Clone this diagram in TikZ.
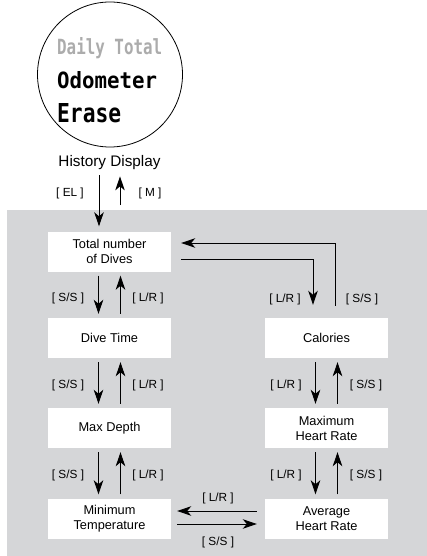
\documentclass[tikz,border=0pt]{standalone}
\usepackage{fontspec}
\setmainfont{Liberation Sans}
\newfontfamily\lcdfont{DejaVu Sans Mono}
\usetikzlibrary{arrows.meta}
\definecolor{panelgray}{RGB}{213,214,216}
\definecolor{lcdgray}{RGB}{172,172,172}
\tikzset{
  box/.style={fill=white, minimum width=123pt, minimum height=40pt, inner sep=0pt, align=center, font=\fontsize{12.8}{15}\selectfont},
  keylbl/.style={inner sep=0pt, font=\fontsize{11.8}{13}\selectfont},
  arr/.style={line width=0.9pt, -{Stealth[length=14pt,width=9.5pt,inset=4pt]}},
  lcd/.style={inner sep=0pt, anchor=base west}
}
\begin{document}
\begin{tikzpicture}[x=1pt,y=-1pt]
\useasboundingbox (0,0) rectangle (427,556);
\fill[panelgray] (7,210) rectangle (427,556);
% display circle
\draw[line width=0.8pt] (110,74.5) circle[radius=72.5pt];
\node[lcd, text=lcdgray] (daily) at (57,55) {\resizebox{105pt}{17pt}{\lcdfont\bfseries Daily Total}};
\node[lcd] (odo) at (57,89) {\resizebox{100pt}{17pt}{\lcdfont\bfseries Odometer}};
\node[lcd] (erase) at (57,123) {\resizebox{64pt}{19pt}{\lcdfont\bfseries Erase}};
\node[inner sep=0pt, anchor=base, font=\fontsize{15.3}{17}\selectfont] (hist) at (109.5,167) {History Display};
% boxes
\node[box] (total) at (109.5,251.5) {Total number\\of Dives};
\node[box] (dive) at (109.5,338) {Dive Time};
\node[box] (depth) at (109.5,428) {Max Depth};
\node[box] (mint) at (109.5,518.5) {Minimum\\Temperature};
\node[box] (cal) at (326.5,338) {Calories};
\node[box] (maxhr) at (326.5,428) {Maximum\\Heart Rate};
\node[box] (avghr) at (326.5,518.5) {Average\\Heart Rate};
% history arrows
\draw[arr] ([xshift=-10.5pt,yshift=-5pt]hist.south) -- ([xshift=-10.5pt,yshift=5pt]total.north);
\coordinate (mstart) at (120,205);
\draw[arr] (mstart) -- ([xshift=10.5pt,yshift=-6pt]hist.south);
\node[keylbl] (el) at (70,193) {[ EL ]};
\node[keylbl] (m) at (150,193) {[ M ]};
% left column
\foreach \a/\b in {total/dive, dive/depth, depth/mint}{
  \draw[arr] ([xshift=-11pt,yshift=-4pt]\a.south) -- ([xshift=-11pt,yshift=4pt]\b.north);
  \draw[arr] ([xshift=11pt,yshift=4pt]\b.north) -- ([xshift=11pt,yshift=-4pt]\a.south);
}
\node[keylbl] at (68,298) {[ S/S ]};
\node[keylbl] at (148,298) {[ L/R ]};
\node[keylbl] at (68,385) {[ S/S ]};
\node[keylbl] at (148,385) {[ L/R ]};
\node[keylbl] at (68,475) {[ S/S ]};
\node[keylbl] at (148,475) {[ L/R ]};
% right column
\foreach \a/\b in {cal/maxhr, maxhr/avghr}{
  \draw[arr] ([xshift=-11pt,yshift=-4pt]\a.south) -- ([xshift=-11pt,yshift=4pt]\b.north);
  \draw[arr] ([xshift=11pt,yshift=4pt]\b.north) -- ([xshift=11pt,yshift=-4pt]\a.south);
}
\node[keylbl] at (286,385) {[ L/R ]};
\node[keylbl] at (366,385) {[ S/S ]};
\node[keylbl] at (286,475) {[ L/R ]};
\node[keylbl] at (366,475) {[ S/S ]};
% loop between total and calories
\draw[arr] ([xshift=10pt,yshift=-7.5pt]total.east) -| ([xshift=-13.5pt,yshift=13pt]cal.north);
\draw[arr] ([xshift=8.5pt,yshift=12pt]cal.north) |- ([xshift=10pt,yshift=8.5pt]total.east);
\node[keylbl] at (285,299) {[ L/R ]};
\node[keylbl] at (362,299) {[ S/S ]};
% bottom horizontal
\draw[arr] ([xshift=-8pt,yshift=7.5pt]avghr.west) -- ([xshift=6pt,yshift=7.5pt]mint.east);
\draw[arr] ([xshift=6pt,yshift=-5.5pt]mint.east) -- ([xshift=-8pt,yshift=-5.5pt]avghr.west);
\node[keylbl] at (218,498) {[ L/R ]};
\node[keylbl] at (218,542) {[ S/S ]};
\end{tikzpicture}
\end{document}
